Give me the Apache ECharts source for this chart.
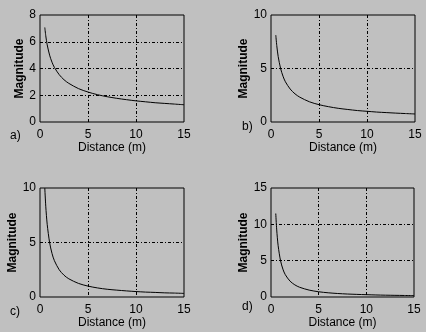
<!DOCTYPE html>
<html>
<head>
<meta charset="utf-8">
<script src="https://cdn.jsdelivr.net/npm/echarts@6/dist/echarts.min.js"></script>
<style>
  html, body { margin: 0; padding: 0; background: #c0c0c0; }
  #chart { width: 426px; height: 332px; }
</style>
</head>
<body>
<div id="chart"></div>
<script>
// Distance samples (m) shared by all four panels
const distance = [0.5, 0.6, 0.75, 1, 1.25, 1.5, 2, 2.5, 3, 4, 5, 6, 7, 8, 9, 10, 11, 12, 13, 14, 15];

// Magnitude curves for each panel
const magA = [7.07, 6.45, 5.77, 5.0, 4.47, 4.08, 3.54, 3.16, 2.89, 2.5, 2.24, 2.04, 1.89, 1.77, 1.67, 1.58, 1.51, 1.44, 1.39, 1.34, 1.29];
const magB = [8.12, 7.15, 6.11, 5.0, 4.28, 3.76, 3.08, 2.63, 2.32, 1.89, 1.62, 1.43, 1.28, 1.17, 1.07, 1.0, 0.93, 0.88, 0.83, 0.79, 0.75];
const magC = [10.0, 8.33, 6.67, 5.0, 4.0, 3.33, 2.5, 2.0, 1.67, 1.25, 1.0, 0.83, 0.71, 0.63, 0.56, 0.5, 0.45, 0.42, 0.38, 0.36, 0.33];
const magD = [11.49, 9.23, 7.06, 5.0, 3.83, 3.07, 2.18, 1.67, 1.34, 0.95, 0.72, 0.58, 0.48, 0.41, 0.36, 0.32, 0.28, 0.25, 0.23, 0.21, 0.19];

// Axis ranges and panel tags
const panelTags = ['a)', 'b)', 'c)', 'd)'];
const yMax = [8, 10, 10, 15];
const yStep = [2, 5, 5, 5];
const xMax = 15;
const xStep = 5;
const xName = 'Distance (m)';
const yName = 'Magnitude';

const series = [magA, magB, magC, magD];

const FONT = 'Liberation Sans, Arial, sans-serif';
const gridLine = { color: '#000', width: 1, type: [3, 2, 1, 2] };

const boxes = [
  { left: 40, top: 15, width: 144, height: 107 },
  { left: 271, top: 15, width: 144, height: 107 },
  { left: 40, top: 188, width: 144, height: 109 },
  { left: 271, top: 188, width: 143, height: 109 }
];
const yGap = [12, 19, 19, 19];
const tagPos = [[10, 137], [242, 128], [10, 313], [242, 308]];

const grids = [], xAxes = [], yAxes = [], lines = [], texts = [];
boxes.forEach((b, i) => {
  grids.push({ left: b.left, top: b.top, width: b.width, height: b.height,
    show: true, borderColor: '#000', borderWidth: 1, backgroundColor: 'transparent', z: 5 });
  xAxes.push({
    type: 'value', gridIndex: i, min: 0, max: xMax, interval: xStep,
    name: xName, nameLocation: 'middle', nameGap: 19,
    nameTextStyle: { fontFamily: FONT, fontSize: 12, color: '#000' },
    axisLine: { show: false }, axisTick: { show: false },
    axisLabel: { fontFamily: FONT, fontSize: 12, color: '#000', margin: 7 },
    splitLine: { show: true, showMinLine: false, showMaxLine: false, lineStyle: gridLine }
  });
  yAxes.push({
    type: 'value', gridIndex: i, min: 0, max: yMax[i], interval: yStep[i],
    name: yName, nameLocation: 'middle', nameGap: yGap[i],
    nameTextStyle: { fontFamily: FONT, fontSize: 12, color: '#000', fontWeight: 'bold' },
    axisLine: { show: false }, axisTick: { show: false },
    axisLabel: { fontFamily: FONT, fontSize: 12, color: '#000', margin: 4 },
    splitLine: { show: true, showMinLine: false, showMaxLine: false, lineStyle: gridLine }
  });
  lines.push({
    type: 'line', xAxisIndex: i, yAxisIndex: i, showSymbol: false, smooth: 0.3,
    lineStyle: { color: '#000', width: 1 }, animation: false,
    data: distance.map((d, k) => [d, series[i][k]])
  });
  texts.push({ type: 'text', left: tagPos[i][0], top: tagPos[i][1] - 7,
    style: { text: panelTags[i], font: '12px ' + FONT, fill: '#000' } });
});

const chart = echarts.init(document.getElementById('chart'), null, { renderer: 'canvas' });
chart.setOption({
  backgroundColor: '#c0c0c0',
  animation: false,
  grid: grids, xAxis: xAxes, yAxis: yAxes, series: lines, graphic: texts
});
</script>
</body>
</html>
